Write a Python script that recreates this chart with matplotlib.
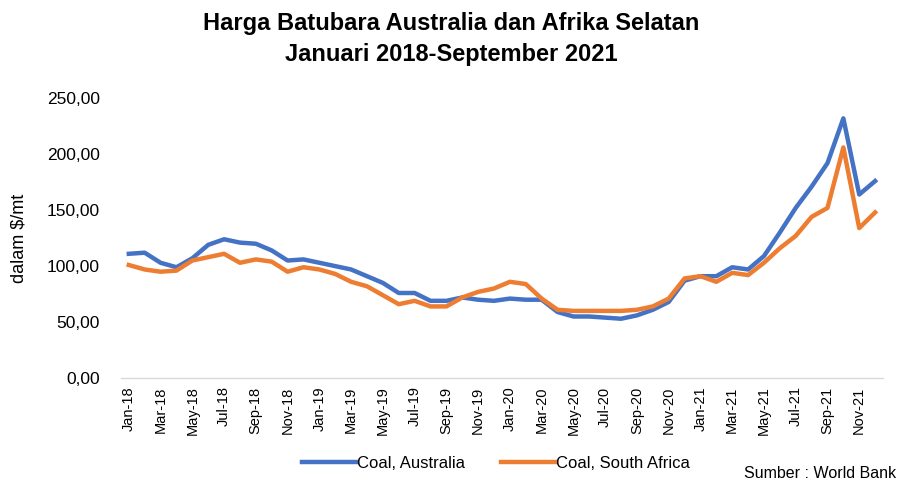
import matplotlib.pyplot as plt
from matplotlib import font_manager

# font: condensed like Arial Narrow if available
names = {f.name for f in font_manager.fontManager.ttflist}
fam = 'Liberation Sans Narrow' if 'Liberation Sans Narrow' in names else 'Liberation Sans'
plt.rcParams['font.family'] = [fam, 'DejaVu Sans']

# Data, Jan-18 .. Dec-21
months = ['Jan', 'Feb', 'Mar', 'Apr', 'May', 'Jun', 'Jul', 'Aug', 'Sep', 'Oct', 'Nov', 'Dec']
labels = [m + '-' + y for y in ['18', '19', '20', '21'] for m in months]

australia = [111, 112, 103, 99, 107, 119, 124, 121, 120, 114, 105, 106,
             103, 100, 97, 91, 85, 76, 76, 69, 69, 72, 70, 69,
             71, 70, 70, 59, 55, 55, 54, 53, 56, 61, 68, 87,
             91, 91, 99, 97, 109, 130, 152, 171, 192, 232, 164, 176]
south_africa = [101, 97, 95, 96, 105, 108, 111, 103, 106, 104, 95, 99,
                97, 93, 86, 82, 74, 66, 69, 64, 64, 72, 77, 80,
                86, 84, 71, 61, 60, 60, 60, 60, 61, 64, 71, 89,
                91, 86, 94, 92, 103, 116, 127, 144, 152, 206, 134, 148]

x = range(len(labels))

fig = plt.figure(figsize=(9.02, 4.91), dpi=100)
ax = fig.add_axes([0.134, 0.23, 0.845, 0.57])

ax.plot(x, australia, color='#4472C4', lw=3.2, label='Coal, Australia', solid_joinstyle='round')
ax.plot(x, south_africa, color='#ED7D31', lw=3.2, label='Coal, South Africa', solid_joinstyle='round')

ax.set_xlim(-0.5, len(labels) - 0.5)
ax.set_ylim(0, 250)
ax.set_yticks(range(0, 251, 50))
ax.set_yticklabels(['%d,00' % v for v in range(0, 251, 50)], fontsize=12.5)
ax.tick_params(axis='y', length=0, pad=15)
ax.set_xticks(list(x)[::2])
ax.set_xticklabels(labels[::2], rotation=90, fontsize=10.5)
ax.tick_params(axis='x', length=0, pad=6)

for s in ['top', 'right', 'left']:
    ax.spines[s].set_visible(False)
ax.spines['bottom'].set_color('#D9D9D9')
ax.spines['bottom'].set_linewidth(1)

ax.set_ylabel('dalam $/mt', fontsize=13, labelpad=14)

fig.text(0.5, 0.952, 'Harga Batubara Australia dan Afrika Selatan', ha='center', va='center',
         fontsize=17, fontweight='bold')
fig.text(0.5, 0.888, 'Januari 2018-September 2021', ha='center', va='center',
         fontsize=17, fontweight='bold')

fig.legend(loc='center', bbox_to_anchor=(0.55, 0.057), ncol=2, frameon=False,
           fontsize=12, handlelength=3.3, handletextpad=0.0, columnspacing=2.2)
fig.text(0.994, 0.02, 'Sumber : World Bank', ha='right', va='bottom', fontsize=11.5)

fig.savefig('out.png', dpi=100)
